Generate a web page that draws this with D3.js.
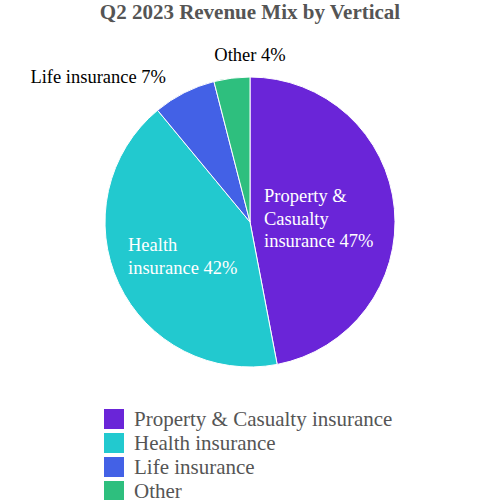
<!DOCTYPE html>
<html><head><meta charset="utf-8">
<script src="https://cdn.jsdelivr.net/npm/d3@7"></script>
<style>body{margin:0;background:#fff}</style>
</head><body>
<svg width="500" height="500"></svg>
<script>
const categories = ["Property & Casualty insurance", "Health insurance", "Life insurance", "Other"];
const values = [47, 42, 7, 4];
const sliceLabels = [["Property &", "Casualty", "insurance 47%"], ["Health", "insurance 42%"], ["Life insurance 7%"], ["Other 4%"]];
const colors = ["#6a25d8", "#22c9cf", "#4361e6", "#2ebf7e"];

const svg = d3.select("svg");
const font = "'Liberation Serif', 'Times New Roman', serif";
const cx = 250, cy = 222, r = 145;

svg.append("text").attr("x", 250).attr("y", 19).attr("text-anchor", "middle")
  .attr("font-family", font).attr("font-weight", "bold").attr("font-size", 21).attr("fill", "#555")
  .text("Q2 2023 Revenue Mix by Vertical");

const pie = d3.pie().sort(null).value(d => d)(values);
const arc = d3.arc().innerRadius(0).outerRadius(r);
const g = svg.append("g").attr("transform", `translate(${cx},${cy})`);
g.selectAll("path").data(pie).join("path")
  .attr("d", arc).attr("fill", (d, i) => colors[i]).attr("stroke", "#fff").attr("stroke-width", 1);

// label offsets relative to pie centre
const labelPos = [[14, -20, "start", "#fff"], [-122, 29, "start", "#fff"], [-84, -139, "end", "#000"], [0, -161, "middle", "#000"]];
pie.forEach((d, i) => {
  const [lx, ly, anchor, fill] = labelPos[i];
  const t = g.append("text").attr("font-family", font).attr("font-size", 18.5).attr("fill", fill)
    .attr("text-anchor", anchor);
  sliceLabels[i].forEach((l, j) => t.append("tspan").attr("x", lx).attr("y", ly + j * 22.5).text(l));
});

const legend = svg.append("g");
categories.forEach((c, i) => {
  const y = 409 + i * 24;
  legend.append("rect").attr("x", 104).attr("y", y).attr("width", 20).attr("height", 20).attr("fill", colors[i]);
  legend.append("text").attr("x", 134).attr("y", y + 17).attr("font-family", font).attr("font-size", 21)
    .attr("fill", "#555").text(c);
});
</script>
</body></html>
